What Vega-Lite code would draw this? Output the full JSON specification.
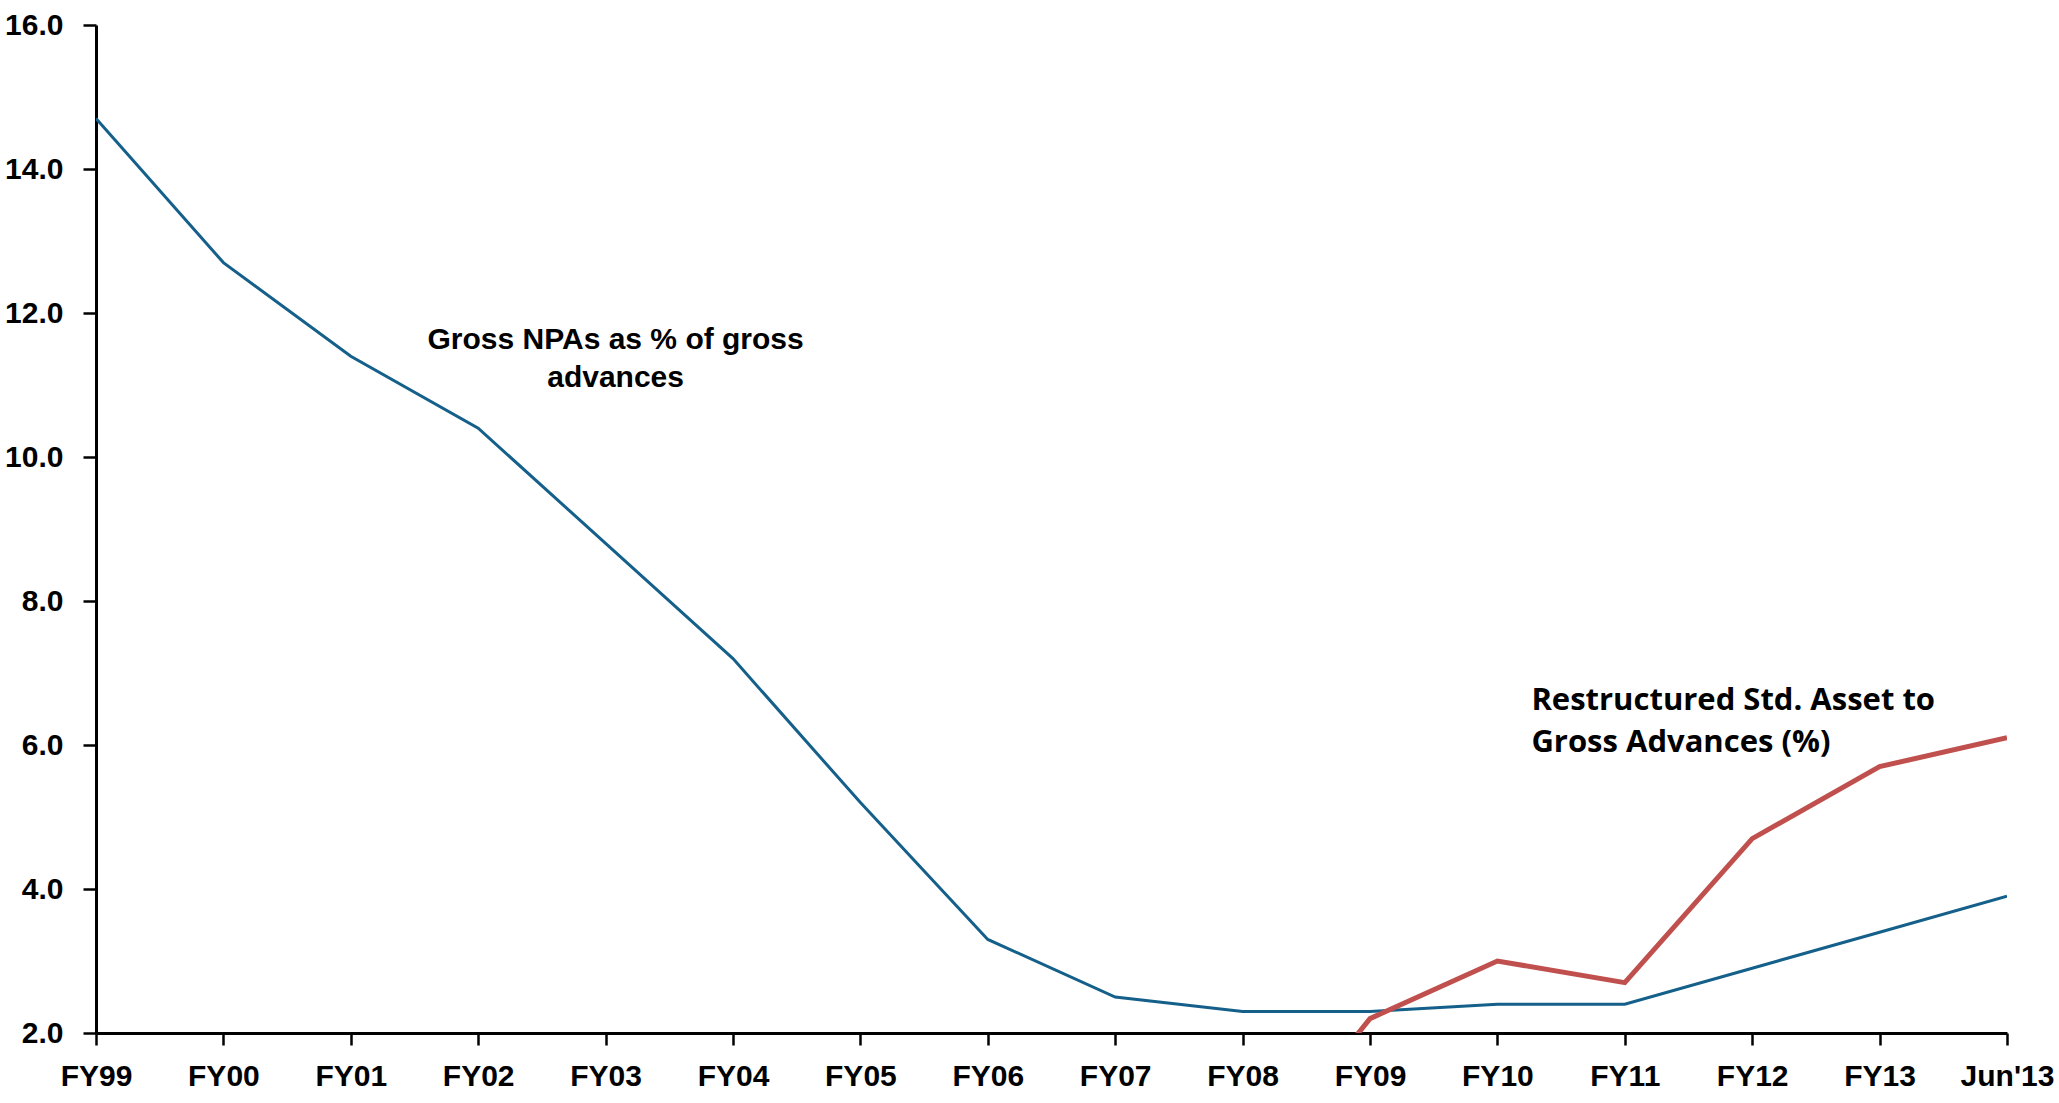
{
  "$schema": "https://vega.github.io/schema/vega-lite/v6.json",
  "width": 1911,
  "height": 1008,
  "autosize": {"type": "none"},
  "padding": {"left": 96, "top": 25, "right": 52, "bottom": 70},
  "background": "white",
  "config": {
    "view": {"stroke": null},
    "axis": {
      "labelFont": "Liberation Sans, Arial, sans-serif",
      "labelFontWeight": "bold",
      "labelFontSize": 30,
      "labelColor": "#000000",
      "domainColor": "#000000",
      "domainWidth": 3,
      "tickColor": "#000000",
      "tickWidth": 2.5,
      "grid": false,
      "title": null
    }
  },
  "datasets": {
    "ratios": [
      {"period": "FY99", "series": "Gross NPA", "value": 14.7},
      {"period": "FY00", "series": "Gross NPA", "value": 12.7},
      {"period": "FY01", "series": "Gross NPA", "value": 11.4},
      {"period": "FY02", "series": "Gross NPA", "value": 10.4},
      {"period": "FY03", "series": "Gross NPA", "value": 8.8},
      {"period": "FY04", "series": "Gross NPA", "value": 7.2},
      {"period": "FY05", "series": "Gross NPA", "value": 5.2},
      {"period": "FY06", "series": "Gross NPA", "value": 3.3},
      {"period": "FY07", "series": "Gross NPA", "value": 2.5},
      {"period": "FY08", "series": "Gross NPA", "value": 2.3},
      {"period": "FY09", "series": "Gross NPA", "value": 2.3},
      {"period": "FY10", "series": "Gross NPA", "value": 2.4},
      {"period": "FY11", "series": "Gross NPA", "value": 2.4},
      {"period": "FY12", "series": "Gross NPA", "value": 2.9},
      {"period": "FY13", "series": "Gross NPA", "value": 3.4},
      {"period": "Jun'13", "series": "Gross NPA", "value": 3.9},
      {"period": "FY08", "series": "Restructured", "value": 0},
      {"period": "FY09", "series": "Restructured", "value": 2.2},
      {"period": "FY10", "series": "Restructured", "value": 3.0},
      {"period": "FY11", "series": "Restructured", "value": 2.7},
      {"period": "FY12", "series": "Restructured", "value": 4.7},
      {"period": "FY13", "series": "Restructured", "value": 5.7},
      {"period": "Jun'13", "series": "Restructured", "value": 6.1}
    ],
    "npaNote": [
      {"period": "FY03", "value": 11.5, "note": "Gross NPAs as % of gross\nadvances"}
    ],
    "restructuredNote": [
      {"period": "FY10", "value": 6.49, "note": "Restructured Std. Asset to\nGross Advances (%)"}
    ]
  },
  "encoding": {
    "x": {
      "field": "period",
      "type": "ordinal",
      "sort": ["FY99", "FY00", "FY01", "FY02", "FY03", "FY04", "FY05", "FY06", "FY07", "FY08", "FY09", "FY10", "FY11", "FY12", "FY13", "Jun'13"],
      "scale": {"type": "point", "padding": 0},
      "axis": {"labelAngle": 0, "tickSize": 12, "labelPadding": 16}
    },
    "y": {
      "field": "value",
      "type": "quantitative",
      "scale": {"domain": [2, 16], "nice": false, "zero": false},
      "axis": {"values": [2, 4, 6, 8, 10, 12, 14, 16], "format": ".1f", "tickSize": 13, "labelPadding": 20}
    }
  },
  "layer": [
    {
      "data": {"name": "ratios"},
      "mark": {"type": "line", "clip": true, "strokeJoin": "miter"},
      "encoding": {
        "color": {
          "field": "series",
          "type": "nominal",
          "scale": {"domain": ["Gross NPA", "Restructured"], "range": ["#14608a", "#c0504d"]},
          "legend": null
        },
        "strokeWidth": {
          "field": "series",
          "type": "nominal",
          "scale": {"domain": ["Gross NPA", "Restructured"], "range": [3, 5]},
          "legend": null
        }
      }
    },
    {
      "data": {"name": "npaNote"},
      "mark": {
        "type": "text",
        "align": "center",
        "baseline": "alphabetic",
        "dx": 10,
        "lineBreak": "\n",
        "lineHeight": 38,
        "font": "Liberation Sans, Arial, sans-serif",
        "fontWeight": "bold",
        "fontSize": 30,
        "color": "#000000"
      },
      "encoding": {"text": {"field": "note"}}
    },
    {
      "data": {"name": "restructuredNote"},
      "mark": {
        "type": "text",
        "align": "left",
        "baseline": "alphabetic",
        "dx": 34,
        "lineBreak": "\n",
        "lineHeight": 42,
        "font": "Open Sans, Lato, sans-serif",
        "fontWeight": "bold",
        "fontSize": 31,
        "color": "#000000"
      },
      "encoding": {"text": {"field": "note"}}
    }
  ]
}
